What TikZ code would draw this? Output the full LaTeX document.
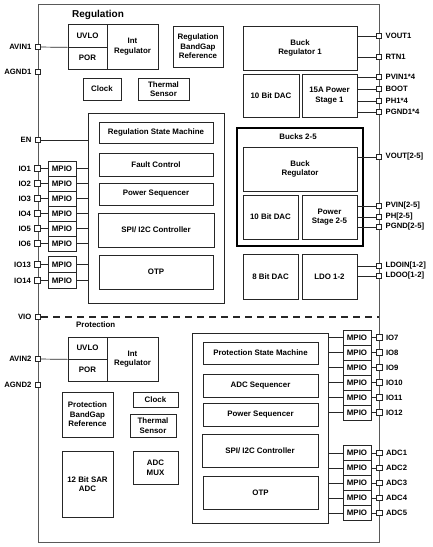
\documentclass[tikz,border=0pt]{standalone}
\usepackage{fontspec}
\setmainfont{Liberation Sans}
\usetikzlibrary{%
	positioning,
	calc
}

\begin{document}
\begin{tikzpicture}[x=1pt,y=-1pt,
		blk/.style={draw=black!85,line width=.7pt,font=\fontsize{7.9}{9.6}\selectfont\bfseries,align=center,inner sep=1pt},
		sz/.style 2 args={minimum width=#1pt,minimum height=#2pt},
		mpio/.style={blk,sz={28}{15},outer sep=0pt},
		pinbox/.style={draw=black!85,line width=.7pt,fill=white,minimum size=5.5pt,inner sep=0pt},
		rpin/.style={pinbox,label distance=1.5pt},
		every label/.style={font=\fontsize{7.7}{9}\selectfont\bfseries},
		wire/.style={draw=black!85,line width=.7pt},
		title/.style={font=\fontsize{10}{12}\selectfont\bfseries,anchor=west,inner sep=0pt}
	]
	\useasboundingbox (0,0) rectangle (432,547);

		\node(chip) [draw=black!65,line width=.9pt,sz={341}{538}] at (208.5,273) {};

		% regulation
		\node(regtitle) [title] at (72,15) {Regulation};
		\node(uvlo1) [blk,sz={39}{23}] at (87.5,35.5) {UVLO};
		\node(por1) [blk,sz={39}{22}] at (87.5,58) {POR};
		\node(intreg1) [blk,sz={51}{45}] at (132.5,46.5) {Int\\Regulator};
		\node(bgref1) [blk,sz={50}{41}] at (198,46.5) {Regulation\\BandGap\\Reference};
		\node(clock1) [blk,sz={38}{22}] at (102,89) {Clock};
		\node(therm1) [blk,sz={51}{22}] at (163.5,89) {Thermal\\Sensor};

		\node(regctl) [blk,sz={136}{190}] at (156,208) {};
		\node(rsm) [blk,sz={114}{21}] at (156,132.5) {Regulation State Machine};
		\node(fault) [blk,sz={114}{23}] at (156,164.5) {Fault Control};
		\node(pseq1) [blk,sz={114}{22}] at (156,194) {Power Sequencer};
		\node(spi1) [blk,sz={116}{34}] at (156,230) {SPI/ I2C Controller};
		\node(otp1) [blk,sz={114}{34}] at (156,272) {OTP};

		\node(mpio1) [mpio] at (62,168.5) {MPIO};
		\node(mpio2) [mpio,below=0pt of mpio1] {MPIO};
		\node(mpio3) [mpio,below=0pt of mpio2] {MPIO};
		\node(mpio4) [mpio,below=0pt of mpio3] {MPIO};
		\node(mpio5) [mpio,below=0pt of mpio4] {MPIO};
		\node(mpio6) [mpio,below=0pt of mpio5] {MPIO};
		\node(mpio13) [mpio,sz={28}{16}] at (62,264.5) {MPIO};
		\node(mpio14) [mpio,sz={28}{16},below=0pt of mpio13] {MPIO};

		\node(buck1) [blk,sz={114}{44}] at (300,48) {Buck\\Regulator 1};
		\node(dac1) [blk,sz={56}{43}] at (271,95.5) {10 Bit DAC};
		\node(ps1) [blk,sz={55}{43}] at (329.5,95.5) {15A Power\\Stage 1};

		\node(bucks) [blk,draw=black,line width=1.3pt,sz={126}{118}] at (300,187) {};
		\node(buckslbl) [blk,draw=none] at (298,137) {Bucks 2-5};
		\node(buckreg) [blk,sz={114}{44}] at (300,169) {Buck\\Regulator};
		\node(dac25) [blk,sz={55}{44}] at (270.5,217) {10 Bit DAC};
		\node(ps25) [blk,sz={55}{44}] at (329.5,217) {Power\\Stage 2-5};

		\node(dac8) [blk,sz={55}{45}] at (270.5,276.5) {8 Bit DAC};
		\node(ldo) [blk,sz={55}{45}] at (329.5,276.5) {LDO 1-2};

		% protection
		\node(prottitle) [title,font=\fontsize{7.9}{9}\selectfont\bfseries] at (76,325) {Protection};
		\node(uvlo2) [blk,sz={39}{22}] at (87.5,348) {UVLO};
		\node(por2) [blk,sz={39}{22}] at (87.5,370) {POR};
		\node(intreg2) [blk,sz={51}{44}] at (132.5,359) {Int\\Regulator};
		\node(bgref2) [blk,sz={51}{45}] at (87.5,414.5) {Protection\\BandGap\\Reference};
		\node(clock2) [blk,sz={45}{15}] at (155.5,399.5) {Clock};
		\node(therm2) [blk,sz={46}{23}] at (153,425.5) {Thermal\\Sensor};
		\node(sar) [blk,sz={51}{66}] at (87.5,484) {12 Bit SAR\\ADC};
		\node(mux) [blk,sz={45}{33}] at (155.5,467.5) {ADC\\MUX};

		\node(protctl) [blk,sz={136}{190}] at (260,428) {};
		\node(psm) [blk,sz={115}{22}] at (260.5,353) {Protection State Machine};
		\node(adcseq) [blk,sz={115}{23}] at (260.5,385.5) {ADC Sequencer};
		\node(pseq2) [blk,sz={115}{23}] at (260.5,414.5) {Power Sequencer};
		\node(spi2) [blk,sz={116}{33}] at (260,450.5) {SPI/ I2C Controller};
		\node(otp2) [blk,sz={115}{33}] at (260.5,492.5) {OTP};

		\node(mpio7) [mpio] at (357,337.5) {MPIO};
		\node(mpio8) [mpio,below=0pt of mpio7] {MPIO};
		\node(mpio9) [mpio,below=0pt of mpio8] {MPIO};
		\node(mpio10) [mpio,below=0pt of mpio9] {MPIO};
		\node(mpio11) [mpio,below=0pt of mpio10] {MPIO};
		\node(mpio12) [mpio,below=0pt of mpio11] {MPIO};
		\node(mpioa1) [mpio] at (357,453) {MPIO};
		\node(mpioa2) [mpio,below=0pt of mpioa1] {MPIO};
		\node(mpioa3) [mpio,below=0pt of mpioa2] {MPIO};
		\node(mpioa4) [mpio,below=0pt of mpioa3] {MPIO};
		\node(mpioa5) [mpio,below=0pt of mpioa4] {MPIO};

		% pins left
		\node(avin1) [pinbox,label=left:AVIN1] at (38,47) {};
		\node(agnd1) [pinbox,label=left:AGND1] at (38,72) {};
		\node(en) [pinbox,label=left:EN] at (38,140) {};
		\node(io1) [pinbox,label=left:IO1] at (mpio1 -| chip.west) {};
		\node(io2) [pinbox,label=left:IO2] at (mpio2 -| chip.west) {};
		\node(io3) [pinbox,label=left:IO3] at (mpio3 -| chip.west) {};
		\node(io4) [pinbox,label=left:IO4] at (mpio4 -| chip.west) {};
		\node(io5) [pinbox,label=left:IO5] at (mpio5 -| chip.west) {};
		\node(io6) [pinbox,label=left:IO6] at (mpio6 -| chip.west) {};
		\node(io13) [pinbox,label=left:IO13] at (mpio13 -| chip.west) {};
		\node(io14) [pinbox,label=left:IO14] at (mpio14 -| chip.west) {};
		\node(vio) [pinbox,label=left:VIO] at (38,317) {};
		\node(avin2) [pinbox,label=left:AVIN2] at (38,359) {};
		\node(agnd2) [pinbox,label=left:AGND2] at (38,385) {};

		% pins right
		\node(vout1) [rpin,label=right:VOUT1] at (379,36) {};
		\node(rtn1) [rpin,label=right:RTN1] at (379,57) {};
		\node(pvin1) [rpin,label=right:PVIN1*4] at (379,77) {};
		\node(boot) [rpin,label=right:BOOT] at (379,89) {};
		\node(ph1) [rpin,label=right:PH1*4] at (379,101) {};
		\node(pgnd1) [rpin,label=right:PGND1*4] at (379,112) {};
		\node(vout25) [rpin,label={right:{VOUT[2-5]}}] at (379,157) {};
		\node(pvin25) [rpin,label={right:{PVIN[2-5]}}] at (379,206) {};
		\node(ph25) [rpin,label={right:{PH[2-5]}}] at (379,217) {};
		\node(pgnd25) [rpin,label={right:{PGND[2-5]}}] at (379,227) {};
		\node(ldoin) [rpin,label={right:{LDOIN[1-2]}}] at (379,266) {};
		\node(ldoo) [rpin,label={right:{LDOO[1-2]}}] at (379,276) {};
		\node(io7) [rpin,label=right:IO7] at (mpio7 -| chip.east) {};
		\node(io8) [rpin,label=right:IO8] at (mpio8 -| chip.east) {};
		\node(io9) [rpin,label=right:IO9] at (mpio9 -| chip.east) {};
		\node(io10) [rpin,label=right:IO10] at (mpio10 -| chip.east) {};
		\node(io11) [rpin,label=right:IO11] at (mpio11 -| chip.east) {};
		\node(io12) [rpin,label=right:IO12] at (mpio12 -| chip.east) {};
		\node(adc1) [rpin,label=right:ADC1] at (mpioa1 -| chip.east) {};
		\node(adc2) [rpin,label=right:ADC2] at (mpioa2 -| chip.east) {};
		\node(adc3) [rpin,label=right:ADC3] at (mpioa3 -| chip.east) {};
		\node(adc4) [rpin,label=right:ADC4] at (mpioa4 -| chip.east) {};
		\node(adc5) [rpin,label=right:ADC5] at (mpioa5 -| chip.east) {};

		% wires
		\draw[wire] (avin1) -- (uvlo1.south west);
		\draw[wire] (en) -- (en -| regctl.west);
		\draw[wire] (io1) -- (mpio1) -- (mpio1 -| regctl.west);
		\draw[wire] (io2) -- (mpio2) -- (mpio2 -| regctl.west);
		\draw[wire] (io3) -- (mpio3) -- (mpio3 -| regctl.west);
		\draw[wire] (io4) -- (mpio4) -- (mpio4 -| regctl.west);
		\draw[wire] (io5) -- (mpio5) -- (mpio5 -| regctl.west);
		\draw[wire] (io6) -- (mpio6) -- (mpio6 -| regctl.west);
		\draw[wire] (io13) -- (mpio13) -- (mpio13 -| regctl.west);
		\draw[wire] (io14) -- (mpio14) -- (mpio14 -| regctl.west);
		\draw[wire] (avin2) -- (uvlo2.south west);

		\draw[wire] (vout1) -- (vout1 -| buck1.east);
		\draw[wire] (rtn1) -- (rtn1 -| buck1.east);
		\draw[wire] (pvin1) -- (pvin1 -| ps1.east);
		\draw[wire] (boot) -- (boot -| ps1.east);
		\draw[wire] (ph1) -- (ph1 -| ps1.east);
		\draw[wire] (pgnd1) -- (pgnd1 -| ps1.east);
		\draw[wire] (vout25) -- (vout25 -| buckreg.east);
		\draw[wire] (pvin25) -- (pvin25 -| ps25.east);
		\draw[wire] (ph25) -- (ph25 -| ps25.east);
		\draw[wire] (pgnd25) -- (pgnd25 -| ps25.east);
		\draw[wire] (ldoin) -- (ldoin -| ldo.east);
		\draw[wire] (ldoo) -- (ldoo -| ldo.east);

		\draw[wire] (io7) -- (mpio7) -- (mpio7 -| protctl.east);
		\draw[wire] (io8) -- (mpio8) -- (mpio8 -| protctl.east);
		\draw[wire] (io9) -- (mpio9) -- (mpio9 -| protctl.east);
		\draw[wire] (io10) -- (mpio10) -- (mpio10 -| protctl.east);
		\draw[wire] (io11) -- (mpio11) -- (mpio11 -| protctl.east);
		\draw[wire] (io12) -- (mpio12) -- (mpio12 -| protctl.east);
		\draw[wire] (adc1) -- (mpioa1) -- (mpioa1 -| protctl.east);
		\draw[wire] (adc2) -- (mpioa2) -- (mpioa2 -| protctl.east);
		\draw[wire] (adc3) -- (mpioa3) -- (mpioa3 -| protctl.east);
		\draw[wire] (adc4) -- (mpioa4) -- (mpioa4 -| protctl.east);
		\draw[wire] (adc5) -- (mpioa5) -- (mpioa5 -| protctl.east);

		\draw[wire,line width=1.1pt,dash pattern=on 7pt off 5pt] (vio) -- (vio -| chip.east);

	\end{tikzpicture}
\end{document}
